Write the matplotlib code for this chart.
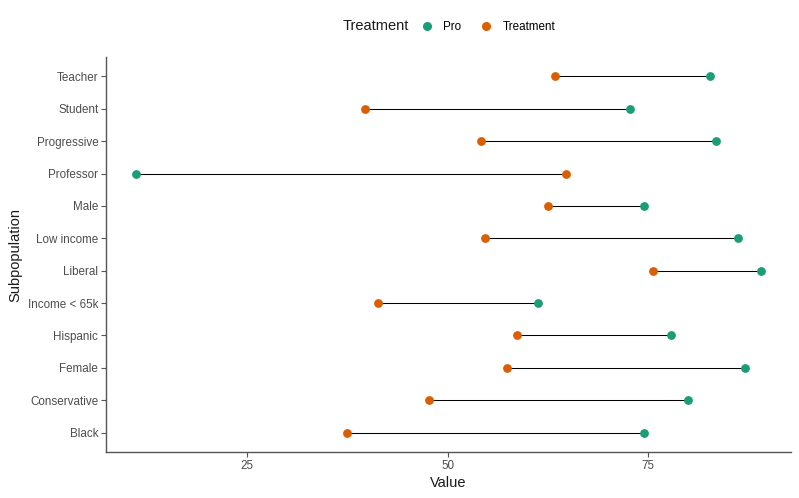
import matplotlib
matplotlib.use("Agg")
import matplotlib.pyplot as plt
from matplotlib.lines import Line2D

categories = ["Black", "Conservative", "Female", "Hispanic", "Income < 65k", "Liberal",
              "Low income", "Male", "Professor", "Progressive", "Student", "Teacher"]
pro_values = [74.5, 80.0, 87.1, 77.9, 61.2, 89.0, 86.2, 74.5, 11.2, 83.4, 72.7, 82.7]
treatment_values = [37.5, 47.7, 57.4, 58.7, 41.3, 75.6, 54.6, 62.5, 64.7, 54.2, 39.7, 63.4]
xticks = [25, 50, 75]

GREEN = "#1B9E77"
ORANGE = "#D95F02"
FONT = "Liberation Sans"
plt.rcParams["font.family"] = [FONT, "DejaVu Sans"]

fig = plt.figure(figsize=(7.99, 4.98), dpi=100)
ax = fig.add_axes([106 / 799, 46 / 498, 685 / 799, 395 / 498])

y = list(range(len(categories)))
for yi, p, t in zip(y, pro_values, treatment_values):
    ax.plot([t, p], [yi, yi], color="black", lw=0.75, zorder=1)
ax.scatter(pro_values, y, s=40, color=GREEN, zorder=3, linewidths=0)
ax.scatter(treatment_values, y, s=40, color=ORANGE, zorder=3, linewidths=0)

ax.set_xlim(7.4, 92.8)
ax.set_ylim(-0.6, len(categories) - 0.4)
ax.set_yticks(y)
ax.set_yticklabels(categories)
ax.set_xticks(xticks)
ax.set_xticklabels([str(v) for v in xticks])

for s in ["top", "right"]:
    ax.spines[s].set_visible(False)
for s in ["left", "bottom"]:
    ax.spines[s].set_color("#555555")
    ax.spines[s].set_linewidth(1.0)
ax.tick_params(axis="both", colors="#555555", labelcolor="#4D4D4D", labelsize=8.4,
               length=3.5, width=0.8, pad=2)

ax.set_xlabel("Value", fontsize=10.5, color="#1A1A1A", labelpad=3)
ax.set_ylabel("Subpopulation", fontsize=10.5, color="#1A1A1A", labelpad=4)

# Legend: title inline on the left, entries horizontally
fig.text(343 / 799, 1 - 26 / 498, "Treatment", fontsize=10.5, color="#1A1A1A",
         ha="left", va="center")
handles = [Line2D([], [], marker="o", ls="", color=GREEN, markersize=5.5),
           Line2D([], [], marker="o", ls="", color=ORANGE, markersize=5.5)]
fig.legend(handles, ["Pro", "Treatment"], loc="center left",
           bbox_to_anchor=(420 / 799, 1 - 27 / 498), ncol=2, frameon=False,
           fontsize=8.4, handletextpad=0.8, columnspacing=1.5, handlelength=1.2,
           borderaxespad=0, borderpad=0)

fig.savefig("out.png", dpi=100)
